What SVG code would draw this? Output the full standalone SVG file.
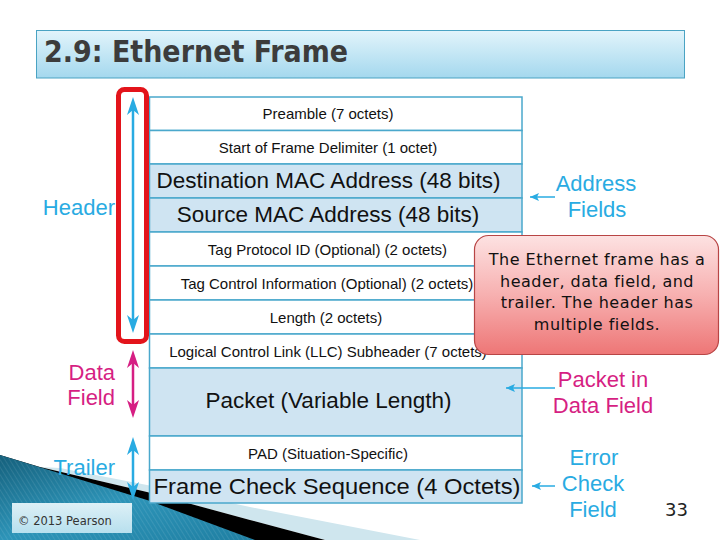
<svg xmlns="http://www.w3.org/2000/svg" width="720" height="540" viewBox="0 0 720 540">
<defs>
  <linearGradient id="gTitle" x1="0" y1="0" x2="0" y2="1">
    <stop offset="0" stop-color="#e2f4fb"/>
    <stop offset="1" stop-color="#a4d8ee"/>
  </linearGradient>
  <linearGradient id="gCallout" x1="0" y1="0" x2="0" y2="1">
    <stop offset="0" stop-color="#fde2e2"/>
    <stop offset="0.5" stop-color="#f7b0b0"/>
    <stop offset="1" stop-color="#ee7676"/>
  </linearGradient>
  <linearGradient id="gTeal" x1="0" y1="0" x2="1" y2="1">
    <stop offset="0" stop-color="#15607c"/>
    <stop offset="0.5" stop-color="#2d94b8"/>
    <stop offset="1" stop-color="#1f7fa2"/>
  </linearGradient>
  <linearGradient id="gCopy" x1="0" y1="0" x2="0" y2="1">
    <stop offset="0" stop-color="#e6f5fa"/>
    <stop offset="1" stop-color="#bfe4f1"/>
  </linearGradient>
  <pattern id="pStripe" width="4" height="4" patternUnits="userSpaceOnUse" patternTransform="rotate(-32)">
    <line x1="0" y1="0" x2="0" y2="4" stroke="#ffffff" stroke-opacity="0.18" stroke-width="1"/>
  </pattern>
  <marker id="ahBlue" markerUnits="userSpaceOnUse" markerWidth="20" markerHeight="12" refX="5" refY="6" orient="auto-start-reverse">
    <path d="M0,0 L18,6 L0,12 L5,6 z" fill="#29abe2"/>
  </marker>
  <marker id="ahMag" markerUnits="userSpaceOnUse" markerWidth="20" markerHeight="12" refX="5" refY="6" orient="auto-start-reverse">
    <path d="M0,0 L18,6 L0,12 L5,6 z" fill="#d61f83"/>
  </marker>
  <marker id="ahSmall" markerUnits="userSpaceOnUse" markerWidth="10" markerHeight="8" refX="9" refY="4" orient="auto">
    <path d="M0,0 L9,4 L0,8 L2,4 z" fill="#29abe2"/>
  </marker>
  <style>
    .row { stroke: #4aa8cc; stroke-width: 1.5; }
    .w { fill: #ffffff; }
    .b { fill: #cfe4f2; }
    .sm { font-family: "Liberation Sans", Arial, sans-serif; font-size: 15px; fill: #111; text-anchor: middle; }
    .lg { font-family: "Liberation Sans", Arial, sans-serif; font-size: 22.5px; fill: #111; text-anchor: middle; }
    .lbB { font-family: "Liberation Sans", Arial, sans-serif; font-size: 22px; fill: #29abe2; }
    .lbM { font-family: "Liberation Sans", Arial, sans-serif; font-size: 22px; fill: #d61f83; }
    .mid { text-anchor: middle; }
    .end { text-anchor: end; }
    .arrB { stroke: #29abe2; stroke-width: 2.5; fill: none; }
    .arrM { stroke: #d61f83; stroke-width: 2.5; fill: none; }
    .ptr { stroke: #29abe2; stroke-width: 1.5; fill: none; marker-end: url(#ahSmall); }
    .co { font-family: "DejaVu Sans", Verdana, sans-serif; font-size: 16px; fill: #111; text-anchor: middle; letter-spacing: 0.5px; }
  </style>
</defs>

<rect x="0" y="0" width="720" height="540" fill="#ffffff"/>

<!-- bottom-left decoration -->
<g id="decoration">
  <polygon points="60,468 147,485 250,507 420,540 325,540 250,520 147,492 40,467" fill="#cfe6ee"/>
  <polygon points="40,467 147,492 250,520 325,540 0,540 0,455" fill="#000000"/>
  <polygon points="0,455 147,500 255,540 0,540" fill="url(#gTeal)"/>
  <polygon points="0,455 147,500 255,540 0,540" fill="url(#pStripe)"/>
</g>

<!-- title -->
<g id="title">
  <rect x="36.5" y="30.5" width="648" height="47.5" fill="url(#gTitle)" stroke="#4aa3c3" stroke-width="1"/>
  <text x="44" y="62" font-family="'DejaVu Sans Condensed', 'DejaVu Sans', sans-serif" font-weight="bold" font-size="30" fill="#3c3c3c" textLength="304" lengthAdjust="spacingAndGlyphs">2.9: Ethernet Frame</text>
</g>

<!-- frame table -->
<g id="row-preamble"><rect class="row w" x="149.5" y="97" width="372.5" height="33.5"/><text class="sm" x="328" y="119">Preamble (7 octets)</text></g>
<g id="row-sfd"><rect class="row w" x="149.5" y="130.5" width="372.5" height="33.5"/><text class="sm" x="328" y="153">Start of Frame Delimiter (1 octet)</text></g>
<g id="row-dest"><rect class="row b" x="149.5" y="164" width="372.5" height="34"/><text class="lg" x="328.5" y="188">Destination MAC Address (48 bits)</text></g>
<g id="row-src"><rect class="row b" x="149.5" y="198" width="372.5" height="34"/><text class="lg" x="328" y="222">Source MAC Address (48 bits)</text></g>
<g id="row-tpid"><rect class="row w" x="149.5" y="232" width="372.5" height="34"/><text class="sm" x="327.5" y="255">Tag Protocol ID (Optional) (2 octets)</text></g>
<g id="row-tci"><rect class="row w" x="149.5" y="266" width="372.5" height="34"/><text class="sm" x="327" y="289">Tag Control Information (Optional) (2 octets)</text></g>
<g id="row-length"><rect class="row w" x="149.5" y="300" width="372.5" height="34"/><text class="sm" x="326" y="323">Length (2 octets)</text></g>
<g id="row-llc"><rect class="row w" x="149.5" y="334" width="372.5" height="34"/><text class="sm" x="328" y="357">Logical Control Link (LLC) Subheader (7 octets)</text></g>
<g id="row-packet"><rect class="row b" x="149.5" y="368" width="372.5" height="68"/><text class="lg" x="328.5" y="408">Packet (Variable Length)</text></g>
<g id="row-pad"><rect class="row w" x="149.5" y="436" width="372.5" height="34"/><text class="sm" x="328" y="459">PAD (Situation-Specific)</text></g>
<g id="row-fcs"><rect class="row b" x="149.5" y="470" width="372.5" height="33"/><text class="lg" x="337" y="494" textLength="367" lengthAdjust="spacingAndGlyphs">Frame Check Sequence (4 Octets)</text></g>

<!-- header highlight -->
<g id="header-highlight">
  <rect x="118.5" y="89.5" width="28" height="252" rx="6" ry="6" fill="none" stroke="#e3141b" stroke-width="5"/>
</g>

<!-- left labels -->
<g id="label-header"><text class="lbB end" x="115" y="215">Header</text></g>
<g id="label-data"><text class="lbM end" x="115" y="380">Data</text><text class="lbM end" x="115" y="405">Field</text></g>
<g id="label-trailer"><text class="lbB end" x="115" y="475">Trailer</text></g>

<!-- right labels -->
<g id="label-address"><text class="lbB mid" x="596" y="191">Address</text><text class="lbB mid" x="597" y="217">Fields</text></g>
<g id="label-packet"><text class="lbM mid" x="603" y="387">Packet in</text><text class="lbM mid" x="603" y="413">Data Field</text></g>
<g id="label-error"><text class="lbB mid" x="594" y="465">Error</text><text class="lbB mid" x="593" y="491">Check</text><text class="lbB mid" x="593" y="517">Field</text></g>

<!-- connectors -->
<g id="connectors">
  <line class="arrB" x1="133" y1="110" x2="133" y2="320" marker-start="url(#ahBlue)" marker-end="url(#ahBlue)"/>
  <line class="arrM" x1="133" y1="363" x2="133" y2="405" marker-start="url(#ahMag)" marker-end="url(#ahMag)"/>
  <line class="arrB" x1="133" y1="450" x2="133" y2="487" marker-start="url(#ahBlue)" marker-end="url(#ahBlue)"/>
  <line class="ptr" x1="555" y1="197" x2="530" y2="197"/>
  <line class="ptr" x1="555" y1="388" x2="506" y2="388"/>
  <line class="ptr" x1="555" y1="486" x2="532" y2="486"/>
</g>

<!-- callout -->
<g id="callout">
  <rect x="474.5" y="235.5" width="244" height="119" rx="14" ry="14" fill="url(#gCallout)" stroke="#b84545" stroke-width="1.2"/>
  <text class="co" x="597" y="265">The Ethernet frame has a</text>
  <text class="co" x="597" y="287">header, data field, and</text>
  <text class="co" x="597" y="308">trailer. The header has</text>
  <text class="co" x="597" y="330">multiple fields.</text>
</g>

<!-- copyright & page number -->
<g id="copyright">
  <rect x="12" y="503" width="120" height="30" fill="url(#gCopy)" fill-opacity="0.95"/>
  <text x="18" y="525" font-family="'DejaVu Sans', Verdana, sans-serif" font-size="11.5" fill="#333">© 2013 Pearson</text>
</g>
<g id="page-number">
  <text x="665" y="516" font-family="'DejaVu Sans', Verdana, sans-serif" font-size="18" fill="#222">33</text>
</g>
</svg>
